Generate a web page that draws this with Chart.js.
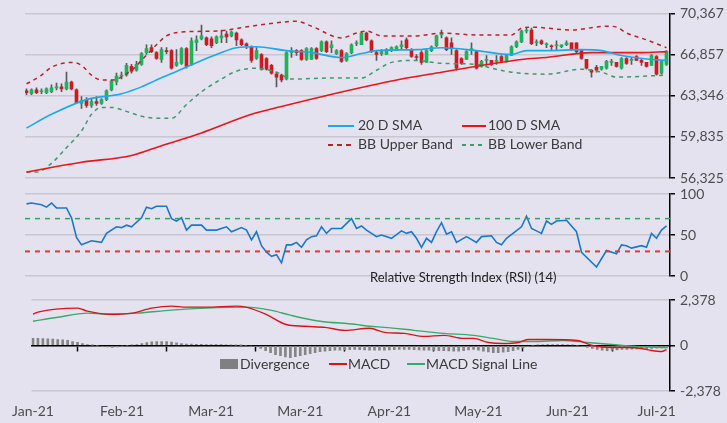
<!DOCTYPE html>
<html><head><meta charset="utf-8">
<script src="https://cdn.jsdelivr.net/npm/chart.js@4/dist/chart.umd.min.js"></script>
<style>
html,body{margin:0;padding:0;background:#E5E2EF;width:727px;height:423px;overflow:hidden;font-family:Lato,sans-serif;}
canvas{position:absolute;left:0;top:0;}
.lg{position:absolute;font-size:14px;color:#3a3a3a;white-space:nowrap;line-height:16px;}
.ln{position:absolute;height:2px;}
</style></head>
<body>
<canvas id="c1" width="727" height="423"></canvas>
<canvas id="c2" width="727" height="423"></canvas>
<canvas id="c3" width="727" height="423"></canvas>

<div class="ln" style="left:328px;top:125px;width:26px;background:#1aa9ee"></div>
<div class="lg" style="left:358px;top:117px">20 D SMA</div>
<div class="ln" style="left:462px;top:125px;width:24px;background:#e8161c"></div>
<div class="lg" style="left:488px;top:117px">100 D SMA</div>
<div class="ln" style="left:328px;top:144px;width:26px;background:repeating-linear-gradient(90deg,#b8232a 0 5px,transparent 5px 9px)"></div>
<div class="lg" style="left:358px;top:136px">BB Upper Band</div>
<div class="ln" style="left:462px;top:144px;width:24px;background:repeating-linear-gradient(90deg,#3f9a6b 0 4px,transparent 4px 8px)"></div>
<div class="lg" style="left:488px;top:136px">BB Lower Band</div>

<div class="lg" style="left:370px;top:269px;color:#222;font-size:13px">Relative Strength Index (RSI) (14)</div>

<div style="position:absolute;left:220px;top:359px;width:18px;height:10px;background:#808080"></div>
<div class="lg" style="left:240px;top:356px">Divergence</div>
<div class="ln" style="left:329px;top:363px;width:18px;background:#d8141b"></div>
<div class="lg" style="left:348px;top:356px">MACD</div>
<div class="ln" style="left:407px;top:363px;width:18px;background:#3aa96a"></div>
<div class="lg" style="left:426px;top:356px">MACD Signal Line</div>

<script>
// ---------- DATA ----------
const tickIndex  = [0, 18, 36, 54, 72, 90, 108, 126];
const tickLabels = ['Jan-21','Feb-21','Mar-21','Mar-21','Apr-21','May-21','Jun-21','Jul-21'];

const priceTicks      = [56325, 59835.5, 63346, 66856.5, 70367];
const priceTickLabels = ['56,325','59,835','63,346','66,857','70,367'];
const rsiTicks        = [0, 50, 100];
const rsiTickLabels   = ['0','50','100'];
const macdTicks       = [-2378, 0, 2378];
const macdTickLabels  = ['-2,378','0','2,378'];

const opens = [63764,63514,63848,63681,63597,63681,64015,64099,63931,64516,
63848,62678,63012,62510,62845,62678,63012,63848,64516,65018,
65101,65854,65519,66021,67024,67442,67024,66439,67191,67191,
65937,66104,67358,66021,67860,68194,68278,68194,67860,68278,
68612,68445,68695,68110,67776,67525,66522,66857,66522,65937,
65185,65101,64767,67024,67191,67191,66439,66439,67358,67191,
67943,67442,66940,67191,66355,67024,67776,67692,68695,68027,
67024,66940,66857,67191,67191,67525,68110,67275,66689,67024,
66188,67191,67609,68528,68278,67860,67191,66522,66439,67191,
67107,65854,66355,66355,66272,66689,66272,66773,67525,67943,
68863,68946,67860,68027,67692,67609,67609,67525,67692,67860,
67860,67191,66439,65519,65770,65603,65687,66188,66188,65687,
66522,66355,66689,66355,66188,65937,66689,65269,66021];
const closes = [63597,63848,63597,63764,63931,64015,64099,63931,64516,63931,
62761,62928,62510,62845,62678,63012,63764,64600,65018,65101,
65937,65436,66021,66940,67358,67107,66522,67275,67107,65687,
66188,67358,65854,68027,68110,68445,67692,67609,68361,68445,
68361,68779,68110,67692,67609,66355,67191,65603,65603,65269,
64934,64683,67024,67191,67024,66439,67358,67358,66522,67943,
67107,67692,67191,66272,66940,67692,67860,68695,68110,67107,
66857,67107,67275,67442,67525,67692,67442,66689,66606,66188,
67191,67525,68445,68612,67275,67358,65687,66104,67107,67358,
65687,66272,66439,66021,66355,66272,66773,67525,67943,68863,
68946,67776,67943,67776,67776,67525,67692,67692,67860,67275,
67107,66522,65687,65352,65519,65854,66272,66272,65854,66522,
66104,66439,66355,66188,65854,66773,65185,66272,67107];
const highs = [63931,63931,64015,63931,64015,64266,64433,64349,65352,64600,
63931,63263,63179,63096,63263,63096,63848,64683,65269,65352,
66104,66021,66272,67024,67692,67692,67107,67442,67442,67275,
67275,67442,67442,68278,68445,69364,68361,68361,68445,68946,
68863,68863,68779,68194,67860,67609,67442,66940,66606,66021,
65352,65185,67107,67442,67275,67275,67442,67442,67442,68027,
68027,68027,67275,67275,67024,67776,68027,68779,68779,68110,
67191,67275,67358,67525,67609,68027,68278,67358,66857,67191,
67275,67609,68528,68946,68361,68278,67275,66606,67191,67860,
67191,66355,66773,66355,66773,66773,66857,67609,68027,68946,
69113,69113,68110,68110,67860,67692,68027,67692,68027,67860,
67860,67191,66439,65603,65937,65854,66355,66439,66188,66606,
66606,66606,66773,66439,66188,66857,66773,66355,67191];
const lows = [63430,63430,63514,63514,63514,63597,63848,63681,63848,63848,
62678,62260,62343,62343,62510,62594,62928,63764,64266,64767,
65018,65269,65436,65937,66857,67024,66439,66188,66940,65603,
65854,66021,65687,65937,67191,68110,67609,67442,67776,67860,
67860,68361,67609,67609,67358,66188,66439,65519,65519,65185,
64099,64516,64683,66606,66773,66355,66355,66439,66439,67107,
67024,67024,66857,66188,66272,66940,67609,67692,68027,67024,
66355,66773,66857,67107,67191,67275,67275,66606,66355,66021,
66188,67107,67525,68278,67191,66857,65519,66021,66439,66857,
65603,65770,65937,65937,66021,66188,66188,66773,67442,67860,
68695,67692,67609,67692,67442,67191,67275,67442,67609,67191,
67024,66439,65603,64934,65352,65519,65603,65937,65770,65603,
66021,66021,66355,65937,65770,65937,65101,65185,65937];

// [day index, value] readings
const sma20 = [[0,60588],[5,61758],[12,63012],[19,63514],[23,64099],[26,64683],[31,65603],[35,66355],[38,66857],[42,67442],[46,67525],[52,67191],[57,67024],[63,66606],[67,66940],[70,67191],[78,67275],[83,67442],[90,67191],[97,66857],[100,67191],[104,67191],[111,67275],[115,67191],[119,66773],[125,66439],[128,66355]];
const sma100 = [[0,56827],[11,57663],[21,58248],[27,59084],[35,60170],[45,61758],[51,62427],[59,63263],[75,64767],[83,65352],[90,65854],[99,66439],[104,66606],[113,67024],[123,67024],[128,67107]];
const bbUpper = [[0,64349],[3,65101],[5,65770],[9,66188],[11,65937],[13,65101],[15,64683],[17,64683],[21,65519],[23,66355],[26,67692],[28,68445],[31,68779],[38,68863],[45,69280],[51,69615],[54,69698],[57,69280],[63,68278],[66,68695],[68,68863],[71,68445],[78,68445],[83,68695],[90,68528],[97,68528],[99,69113],[101,69197],[109,68946],[116,69280],[118,69197],[120,68695],[124,68110],[128,67442]];
const bbLower = [[0,56827],[2,56827],[5,57579],[8,58916],[11,60337],[13,61758],[15,62343],[17,62343],[20,62009],[23,61591],[26,61424],[29,61424],[32,62594],[35,63681],[38,64516],[42,65436],[46,65687],[50,65352],[53,64767],[61,64851],[67,64851],[70,65519],[73,66188],[78,66355],[83,66104],[90,66021],[93,65687],[97,65352],[104,65185],[111,65603],[115,65352],[118,64934],[128,65101]];

const rsi = [[0,88],[1,89],[3,87],[4,84],[5,89],[6,83],[8,83],[9,71],[10,47],[11,38],[13,43],[15,41],[16,52],[18,60],[19,59],[20,62],[21,60],[23,71],[24,84],[25,82],[26,85],[28,85],[29,70],[30,67],[31,71],[32,56],[33,62],[35,62],[36,56],[38,56],[40,60],[41,54],[43,59],[44,56],[45,44],[46,54],[47,37],[48,29],[49,24],[50,26],[51,16],[52,38],[53,38],[54,41],[55,35],[56,44],[57,48],[58,49],[59,60],[60,52],[61,58],[63,58],[65,70],[66,58],[67,61],[68,56],[70,48],[71,50],[73,46],[75,55],[76,52],[77,54],[78,46],[79,35],[80,46],[81,41],[82,54],[83,65],[84,51],[85,54],[86,41],[88,48],[90,41],[91,48],[93,49],[94,41],[95,38],[96,46],[99,60],[100,73],[101,58],[102,55],[103,52],[104,67],[105,63],[106,67],[108,68],[110,54],[111,29],[114,11],[116,31],[118,27],[119,38],[120,37],[121,34],[123,37],[124,35],[125,52],[126,46],[127,56],[128,61]];
const rsiOverbought = 70;
const rsiOversold = 30;

const macd = [[0,1637],[1,1742],[9,1954],[11,1795],[15,1637],[17,1637],[20,1690],[24,1954],[28,2059],[31,2006],[35,2006],[41,2059],[43,2006],[47,1637],[51,1109],[55,1003],[59,950],[63,792],[68,898],[71,686],[75,634],[79,475],[83,528],[87,370],[89,370],[92,158],[95,106],[98,158],[100,317],[104,317],[110,264],[113,0],[117,-106],[120,-106],[123,-158],[125,-264],[127,-317],[128,-211]];
const macdSignal = [[0,1267],[5,1478],[11,1690],[15,1637],[21,1690],[28,1848],[35,1954],[43,2006],[48,1848],[52,1584],[58,1267],[65,1109],[68,1003],[71,950],[77,792],[83,634],[89,528],[93,370],[97,211],[101,211],[107,264],[112,158],[117,53],[122,-53],[128,-106]];
const divergence = [370,370,360,350,330,310,290,264,211,160,
106,53,20,-20,-53,-80,-106,-80,-30,0,
30,53,106,158,190,211,211,200,180,140,
106,80,70,60,60,53,50,50,45,40,
30,20,10,0,-30,-53,-158,-264,-370,-475,
-528,-600,-634,-580,-528,-475,-422,-370,-317,-300,
-264,-250,-240,-230,-220,-211,-220,-230,-240,-250,
-250,-240,-230,-220,-211,-200,-211,-220,-230,-240,
-250,-260,-264,-270,-280,-290,-300,-264,-230,-200,
-250,-300,-330,-370,-370,-350,-317,-264,-200,-130,
-60,0,30,40,53,53,50,45,40,30,
0,-53,-106,-158,-211,-250,-264,-250,-230,-211,
-200,-190,-180,-170,-160,-150,-140,-130,-120];

// ---------- STYLE ----------
const FONT = {family:'Lato', size:14};
const TXT = '#4d4d4d';
const GRID = '#c9c6cf';
const XMIN = -0.3, XMAX = 128.7;
const pts = a => a.map(p => ({x:p[0], y:p[1]}));

function yAxis(min, max, ticks, labels){
  return {
    position:'right', min, max,
    afterBuildTicks: s => { s.ticks = ticks.map(v => ({value:v})); },
    afterFit: s => { s.width = 57; },
    ticks:{callback:(v,i)=>labels[i], color:TXT, font:FONT, padding:5, autoSkip:false},
    grid:{color:GRID, lineWidth:1.5, tickColor:'#000', tickLength:5, tickWidth:1.5},
    border:{display:true, color:'#000', width:1.5}
  };
}
const hiddenX = {type:'linear', min:XMIN, max:XMAX, display:false, offset:false};
const common = {responsive:false, animation:false, events:[],
  plugins:{legend:{display:false}, tooltip:{enabled:false}}};

// ---------- MAIN PRICE PANEL ----------
const idx = opens.map((_,i)=>i);
new Chart(document.getElementById('c1'), {
  type:'bar',
  data:{datasets:[
    {type:'line', data:pts(sma20), borderColor:'#1aa9ee', borderWidth:1.6, pointRadius:0, cubicInterpolationMode:'monotone', order:0},
    {type:'line', data:pts(sma100), borderColor:'#e8161c', borderWidth:1.6, pointRadius:0, cubicInterpolationMode:'monotone', order:0},
    {type:'line', data:pts(bbUpper), borderColor:'#b8232a', borderWidth:1.5, borderDash:[4,4], pointRadius:0, cubicInterpolationMode:'monotone', order:0},
    {type:'line', data:pts(bbLower), borderColor:'#3f9a6b', borderWidth:1.5, borderDash:[4,4], pointRadius:0, cubicInterpolationMode:'monotone', order:0},
    {type:'bar', data:idx.map(i=>({x:i, y:[lows[i], highs[i]]})), backgroundColor:'#5a5a5a', barThickness:1, grouped:false, order:2},
    {type:'bar', data:idx.map(i=>({x:i, y:[opens[i], closes[i]]})),
      backgroundColor:idx.map(i=> closes[i]>=opens[i] ? '#1db35b' : '#cc1a22'),
      barThickness:3, minBarLength:1, grouped:false, order:1}
  ]},
  options:{...common,
    layout:{padding:{left:25, top:10, right:0, bottom:423-178}},
    scales:{x:hiddenX, y:yAxis(56325, 70367, priceTicks, priceTickLabels)}}
});

// ---------- RSI PANEL ----------
new Chart(document.getElementById('c2'), {
  type:'line',
  data:{datasets:[
    {data:[{x:XMIN,y:rsiOverbought},{x:XMAX,y:rsiOverbought}], borderColor:'#3a9e62', borderWidth:1.5, borderDash:[5,5], pointRadius:0},
    {data:[{x:XMIN,y:rsiOversold},{x:XMAX,y:rsiOversold}], borderColor:'#dd3a3f', borderWidth:2, borderDash:[5,5], pointRadius:0},
    {data:pts(rsi), borderColor:'#1b78c8', borderWidth:1.6, pointRadius:0, tension:0}
  ]},
  options:{...common,
    layout:{padding:{left:25, top:194, right:0, bottom:423-276}},
    scales:{x:hiddenX, y:yAxis(0, 100, rsiTicks, rsiTickLabels)}}
});

// ---------- MACD PANEL ----------
new Chart(document.getElementById('c3'), {
  type:'bar',
  data:{datasets:[
    {type:'line', data:pts(macd), borderColor:'#d8141b', borderWidth:1.4, pointRadius:0, cubicInterpolationMode:'monotone', order:0},
    {type:'line', data:pts(macdSignal), borderColor:'#3aa96a', borderWidth:1.4, pointRadius:0, cubicInterpolationMode:'monotone', order:0},
    {type:'bar', data:divergence.map((v,i)=>({x:i, y:v})), backgroundColor:'#858585', barThickness:2, grouped:false, order:1}
  ]},
  options:{...common,
    layout:{padding:{left:25, top:300, right:0, bottom:0}},
    scales:{
      x:{type:'linear', min:XMIN, max:XMAX, offset:false, position:'bottom',
        afterBuildTicks: s => { s.ticks = tickIndex.map(v => ({value:v})); },
        afterFit: s => { s.height = 32; },
        ticks:{callback:(v,i)=>tickLabels[i], color:TXT, font:FONT, padding:12, autoSkip:false, maxRotation:0},
        grid:{display:false, drawTicks:false}, border:{display:false}},
      x0:{type:'linear', axis:'x', min:XMIN, max:XMAX, offset:false, position:{y:0},
        afterBuildTicks: s => { s.ticks = tickIndex.map(v => ({value:v})); },
        ticks:{display:false},
        grid:{display:true, drawOnChartArea:false, drawTicks:true, tickLength:5, tickColor:'#000', tickWidth:1.5},
        border:{display:true, color:'#000', width:1.5}},
      y:yAxis(-2378, 2378, macdTicks, macdTickLabels)
    }}
});
</script>
</body></html>
